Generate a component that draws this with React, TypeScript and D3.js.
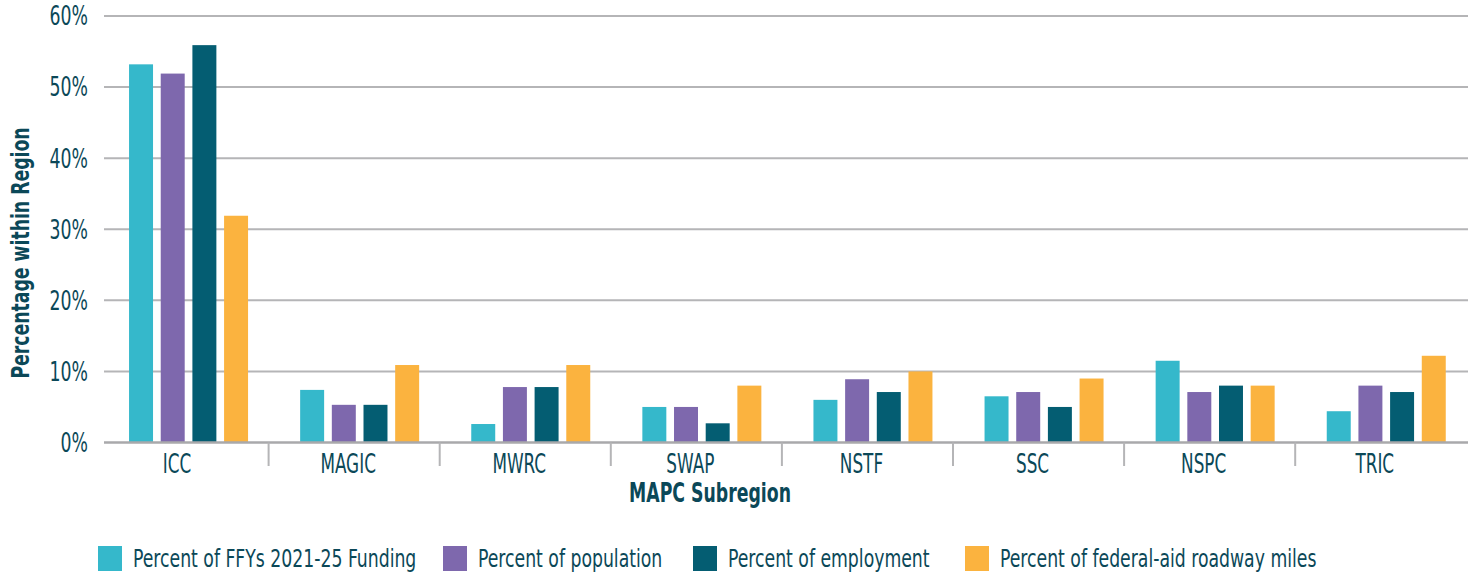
import React, { useRef, useEffect } from "react";
import * as d3 from "d3";

// subregions along the x axis
const subregions = ["ICC", "MAGIC", "MWRC", "SWAP", "NSTF", "SSC", "NSPC", "TRIC"];

// one value per subregion, in percent
const funding = [53.2, 7.4, 2.6, 5.0, 6.0, 6.5, 11.5, 4.4];
const population = [51.9, 5.3, 7.8, 5.0, 8.9, 7.1, 7.1, 8.0];
const employment = [55.9, 5.3, 7.8, 2.7, 7.1, 5.0, 8.0, 7.1];
const roadMiles = [31.9, 10.9, 10.9, 8.0, 10.0, 9.0, 8.0, 12.2];

const seriesNames = [
    "Percent of FFYs 2021-25 Funding",
    "Percent of population",
    "Percent of employment",
    "Percent of federal-aid roadway miles",
];
const seriesValues = [funding, population, employment, roadMiles];
const colors = ["#35b8cb", "#7e68ad", "#045d72", "#fbb33f"];

const yTicks = [0, 10, 20, 30, 40, 50, 60];

const FONT = "'DejaVu Sans Condensed', 'DejaVu Sans', sans-serif";
const TEXT = "#0b4858";

const App = () => {
    const ref = useRef<SVGSVGElement>(null);

    const width = 1478;
    const height = 573;

    useEffect(() => {
        const svg = d3.select(ref.current);
        svg.selectAll("*").remove();

        // the original face is a narrow one, so squeeze the text sideways
        const squeeze = (x: number, y: number, sx: number) =>
            "translate(" + x + "," + y + ") scale(" + sx + ",1)";

        const y = d3.scaleLinear().domain([0, 60]).range([442.5, 16]);

        const x = d3.scaleBand()
            .domain(subregions)
            .range([97.5, 1466.3]);

        // bars of a group sit a bit right of the band centre
        const inner = d3.scaleBand()
            .domain(seriesNames)
            .range([0, 119])
            .paddingInner(0.243);
        const groupOffset = x.bandwidth() / 2 + 5.5 - 59.5;

        // grid lines
        svg.append("g")
            .selectAll("line")
            .data(yTicks.filter((t) => t > 0))
            .join("line")
            .attr("x1", 104)
            .attr("x2", 1468)
            .attr("y1", (d) => y(d))
            .attr("y2", (d) => y(d))
            .attr("stroke", "#b5b5b7")
            .attr("stroke-width", 2);

        // y tick labels
        svg.append("g")
            .selectAll("text")
            .data(yTicks)
            .join("text")
            .attr("transform", (d) => squeeze(88, y(d), 0.74))
            .attr("dy", "0.36em")
            .attr("text-anchor", "end")
            .style("font-family", FONT)
            .style("font-size", "26px")
            .style("fill", TEXT)
            .text((d) => d + "%");

        // bars
        const rows = subregions.map((s, i) => ({
            region: s,
            values: seriesNames.map((n, k) => ({ name: n, value: seriesValues[k][i], k })),
        }));

        svg.append("g")
            .selectAll("g")
            .data(rows)
            .join("g")
            .attr("transform", (d) => "translate(" + ((x(d.region) as number) + groupOffset) + ",0)")
            .selectAll("rect")
            .data((d) => d.values)
            .join("rect")
            .attr("x", (d) => inner(d.name) as number)
            .attr("width", inner.bandwidth())
            .attr("y", (d) => y(d.value))
            .attr("height", (d) => y(0) - y(d.value))
            .attr("fill", (d) => colors[d.k]);

        // baseline and category separators
        svg.append("line")
            .attr("x1", 104)
            .attr("x2", 1468)
            .attr("y1", y(0))
            .attr("y2", y(0))
            .attr("stroke", "#a9a9ab")
            .attr("stroke-width", 2.5);

        svg.append("g")
            .selectAll("line")
            .data(subregions.slice(1))
            .join("line")
            .attr("x1", (d) => x(d) as number)
            .attr("x2", (d) => x(d) as number)
            .attr("y1", y(0))
            .attr("y2", 466)
            .attr("stroke", "#b5b5b7")
            .attr("stroke-width", 2);

        // x labels
        svg.append("g")
            .selectAll("text")
            .data(subregions)
            .join("text")
            .attr("transform", (d) => squeeze((x(d) as number) + x.bandwidth() / 2 - 6, 473, 0.72))
            .attr("text-anchor", "middle")
            .style("font-family", FONT)
            .style("font-size", "26px")
            .style("fill", TEXT)
            .text((d) => d);

        // axis titles
        svg.append("text")
            .attr("transform", squeeze(710, 502, 0.74))
            .attr("text-anchor", "middle")
            .style("font-family", FONT)
            .style("font-weight", "bold")
            .style("font-size", "26px")
            .style("fill", TEXT)
            .text("MAPC Subregion");

        svg.append("text")
            .attr("transform", "translate(29,253) rotate(-90) scale(0.8,1)")
            .attr("text-anchor", "middle")
            .style("font-family", FONT)
            .style("font-weight", "bold")
            .style("font-size", "24px")
            .style("fill", TEXT)
            .text("Percentage within Region");

        // legend
        const legendX = [98, 443, 693, 965];
        const legend = svg.append("g")
            .selectAll("g")
            .data(seriesNames)
            .join("g")
            .attr("transform", (d, i) => "translate(" + legendX[i] + ",546)");

        legend.append("rect")
            .attr("width", 24)
            .attr("height", 25)
            .attr("fill", (d, i) => colors[i]);

        legend.append("text")
            .attr("transform", squeeze(35, 21, 0.8))
            .style("font-family", FONT)
            .style("font-size", "24px")
            .style("fill", TEXT)
            .text((d) => d);
    }, []);

    return (
        <svg
            ref={ref}
            width={width}
            height={height}
            style={{ position: "absolute", left: 0, top: 0, background: "#fff" }}
        />
    );
};

export default App;
